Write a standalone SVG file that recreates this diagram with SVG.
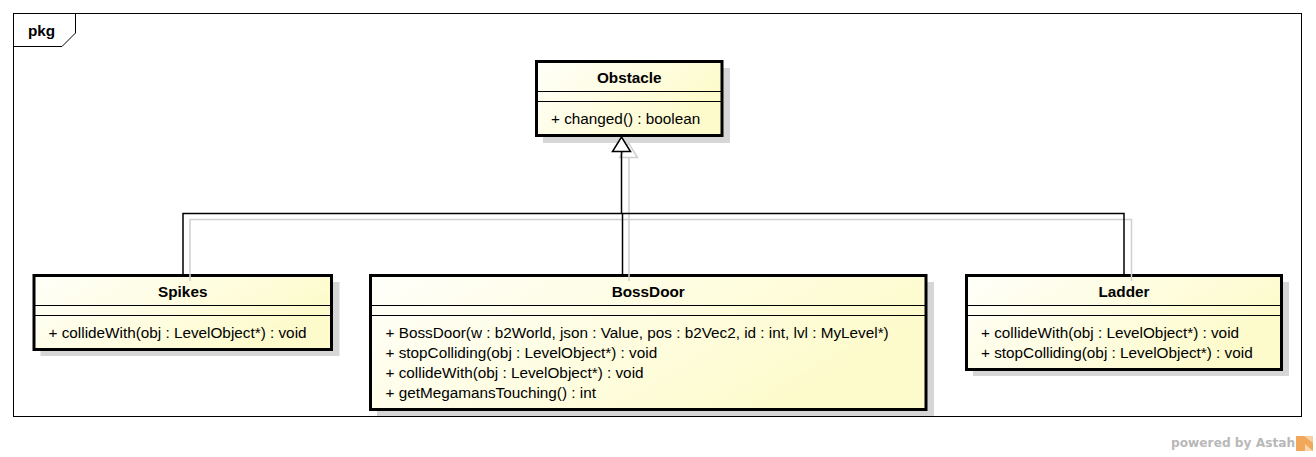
<svg xmlns="http://www.w3.org/2000/svg" width="1316" height="457" viewBox="0 0 1316 457">
<style>
.frame{fill:none;stroke:#000;stroke-width:1}
.box{fill:url(#cls);stroke:#000;stroke-width:3}
.shadow{fill:#d6d6d6}
.sep{stroke:#000;stroke-width:1}
.name{font-family:"Liberation Sans",Arial,sans-serif;font-size:15.3px;font-weight:bold;text-anchor:middle;fill:#000}
.op{font-family:"Liberation Sans",Arial,sans-serif;font-size:15.3px;fill:#000}
.edge{fill:none;stroke:#000;stroke-width:1.5}
.eshadow{fill:none;stroke:#cfcfcf;stroke-width:1.5}
.wm{font-family:"DejaVu Sans",Verdana,sans-serif;font-size:12.2px;font-weight:bold;fill:#b8b8b8}
</style>
<defs>
<linearGradient id="cls" x1="0" y1="0" x2="1" y2="0.4">
<stop offset="0" stop-color="#fffffa"/>
<stop offset="1" stop-color="#fdfbcb"/>
</linearGradient>
</defs>
<rect width="1316" height="457" fill="#fff"/>
<g id="frame">
<rect class="frame" x="13.5" y="13.5" width="1288" height="403"/>
<path class="frame" d="M13.5,46.5 H62 L75.5,33 V13.5"/>
<text x="28" y="36" style="font-family:'Liberation Sans',Arial,sans-serif;font-size:15.3px;font-weight:bold">pkg</text>
</g>
<g id="Obstacle">
<rect class="shadow" x="543" y="68" width="187" height="75"/>
<rect class="box" x="536.5" y="61.5" width="185.5" height="74"/>
<line class="sep" x1="536.5" y1="91.5" x2="722" y2="91.5"/>
<line class="sep" x1="536.5" y1="101.5" x2="722" y2="101.5"/>
<text class="name" x="629.25" y="82.5">Obstacle</text>
<text class="op" x="551" y="124">+ changed() : boolean</text>
</g>
<g id="Spikes">
<rect class="shadow" x="40.5" y="282" width="299" height="74"/>
<rect class="box" x="34" y="275.5" width="297.5" height="74"/>
<line class="sep" x1="34" y1="305.5" x2="331.5" y2="305.5"/>
<line class="sep" x1="34" y1="315.5" x2="331.5" y2="315.5"/>
<text class="name" x="182.75" y="296.5">Spikes</text>
<text class="op" x="48.5" y="338">+ collideWith(obj : LevelObject*) : void</text>
</g>
<g id="BossDoor">
<rect class="shadow" x="377" y="282" width="557" height="134"/>
<rect class="box" x="370.5" y="275.5" width="555.5" height="134"/>
<line class="sep" x1="370.5" y1="305.5" x2="926" y2="305.5"/>
<line class="sep" x1="370.5" y1="315.5" x2="926" y2="315.5"/>
<text class="name" x="648.25" y="296.5">BossDoor</text>
<text class="op" x="385.5" y="338">+ BossDoor(w : b2World, json : Value, pos : b2Vec2, id : int, lvl : MyLevel*)</text>
<text class="op" x="385.5" y="358">+ stopColliding(obj : LevelObject*) : void</text>
<text class="op" x="385.5" y="378">+ collideWith(obj : LevelObject*) : void</text>
<text class="op" x="385.5" y="398">+ getMegamansTouching() : int</text>
</g>
<g id="Ladder">
<rect class="shadow" x="973" y="282" width="316" height="94"/>
<rect class="box" x="966.5" y="275.5" width="315" height="94"/>
<line class="sep" x1="966.5" y1="305.5" x2="1281.5" y2="305.5"/>
<line class="sep" x1="966.5" y1="315.5" x2="1281.5" y2="315.5"/>
<text class="name" x="1124" y="296.5">Ladder</text>
<text class="op" x="981" y="338">+ collideWith(obj : LevelObject*) : void</text>
<text class="op" x="981" y="358">+ stopColliding(obj : LevelObject*) : void</text>
</g>
<g id="connectors">
<path class="eshadow" d="M190,281 V219.5 H1131.5 V281"/>
<path class="eshadow" d="M629,281 V157"/>
<polygon points="628.5,143 637.5,157.5 619.5,157.5" fill="none" stroke="#cfcfcf" stroke-width="1.5"/>
<path class="edge" d="M183,275 V213.5 H1124 V275"/>
<path class="edge" d="M621.5,213.5 V151.5"/>
<path class="edge" d="M622.5,213.5 V275"/>
<polygon points="621.5,137 630.5,151.5 612.5,151.5" fill="#fff" stroke="#000" stroke-width="1.5"/>
</g>
<g id="watermark">
<text class="wm" x="1171" y="447">powered by Astah</text>
<rect x="1296" y="436" width="17" height="15" fill="#f2a85a"/>
<path d="M1304,436 L1313,436 L1313,443 Z" fill="#f8cf9e"/>
<path d="M1305,444 L1313,451 L1305,451 Z" fill="#f8d6ae"/>
</g>
</svg>
